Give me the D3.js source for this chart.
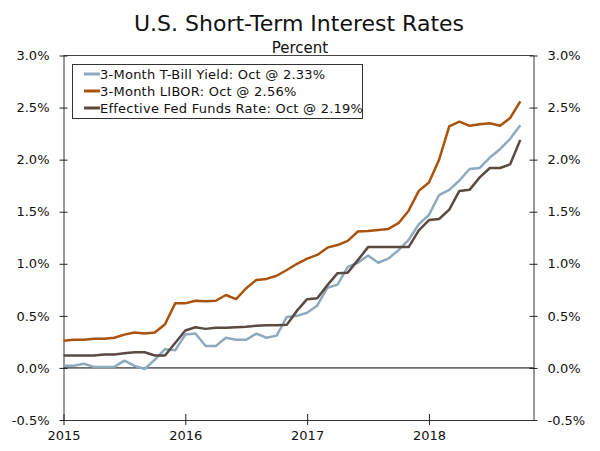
<!DOCTYPE html>
<html>
<head>
<meta charset="utf-8">
<script src="https://cdn.jsdelivr.net/npm/d3@7"></script>
<style>
  body { margin: 0; background: #fff; }
  text { font-family: 'DejaVu Sans', Verdana, sans-serif; fill: #111; }
</style>
</head>
<body>
<script>
// monthly values, Jan 2015 .. Oct 2018
const months = d3.range(46);
const yearTicks = [0, 12, 24, 36];
const yearLabels = ['2015', '2016', '2017', '2018'];
const yTicks = [-0.5, 0, 0.5, 1, 1.5, 2, 2.5, 3];

const tbill = [
  0.02, 0.02, 0.04, 0.01, 0.01, 0.01, 0.07, 0.02, -0.01, 0.08, 0.18, 0.17,
  0.32, 0.33, 0.21, 0.21, 0.29, 0.27, 0.27, 0.33, 0.29, 0.31, 0.49, 0.50,
  0.53, 0.60, 0.77, 0.80, 0.97, 1.01, 1.08, 1.01, 1.05, 1.13, 1.23, 1.38,
  1.47, 1.66, 1.71, 1.80, 1.91, 1.92, 2.02, 2.10, 2.20, 2.33
];
const libor = [
  0.26, 0.27, 0.27, 0.28, 0.28, 0.29, 0.32, 0.34, 0.33, 0.34, 0.42, 0.62,
  0.62, 0.645, 0.64, 0.645, 0.70, 0.66, 0.765, 0.845, 0.855, 0.885, 0.94, 1.0,
  1.05, 1.085, 1.155, 1.18, 1.22, 1.31, 1.315, 1.325, 1.335, 1.39, 1.51, 1.70,
  1.78, 2.00, 2.32, 2.365, 2.325, 2.34, 2.35, 2.325, 2.40, 2.56
];
const fedfunds = [
  0.12, 0.12, 0.12, 0.12, 0.13, 0.13, 0.14, 0.15, 0.15, 0.12, 0.12, 0.24,
  0.36, 0.39, 0.375, 0.385, 0.385, 0.39, 0.395, 0.405, 0.41, 0.41, 0.415, 0.55,
  0.66, 0.67, 0.795, 0.91, 0.915, 1.035, 1.16, 1.16, 1.16, 1.16, 1.16, 1.32,
  1.42, 1.43, 1.52, 1.70, 1.71, 1.83, 1.92, 1.92, 1.955, 2.19
];

const seriesNames = [
  '3-Month T-Bill Yield: Oct @ 2.33%',
  '3-Month LIBOR: Oct @ 2.56%',
  'Effective Fed Funds Rate: Oct @ 2.19%'
];
const seriesColors = ['#8eaabf', '#a9530f', '#5a4a42'];
const seriesData = [tbill, libor, fedfunds];

const width = 600, height = 451;
const margin = { left: 63.5, right: 533.5, top: 55.5, bottom: 420 };

const svg = d3.select('body').append('svg').attr('width', width).attr('height', height);

const x = d3.scaleLinear().domain([0, 46.3]).range([margin.left, margin.right]);
const y = d3.scaleLinear().domain([-0.5, 3]).range([margin.bottom, margin.top]);

// title
svg.append('text').attr('x', 299).attr('y', 31).attr('text-anchor', 'middle')
  .attr('font-size', '22px').text('U.S. Short-Term Interest Rates');
svg.append('text').attr('x', 300).attr('y', 53).attr('text-anchor', 'middle')
  .attr('font-size', '15px').text('Percent');

// frame top
svg.append('line').attr('x1', margin.left).attr('x2', margin.right)
  .attr('y1', margin.top).attr('y2', margin.top)
  .attr('stroke', '#444');

// zero line
svg.append('line').attr('x1', margin.left).attr('x2', margin.right)
  .attr('y1', y(0)).attr('y2', y(0))
  .attr('stroke', '#000');

const fmt = (d) => d.toFixed(1) + '%';

const yLeft = svg.append('g').attr('transform', `translate(${margin.left},0)`)
  .call(d3.axisLeft(y).tickValues(yTicks).tickFormat(fmt).tickSizeInner(4).tickSizeOuter(0).tickPadding(10));
const yRight = svg.append('g').attr('transform', `translate(${margin.right},0)`)
  .call(d3.axisRight(y).tickValues(yTicks).tickFormat(fmt).tickSizeInner(4).tickSizeOuter(0).tickPadding(10));
[yLeft, yRight].forEach((g) => {
  g.selectAll('.tick line').attr('x1', -4).attr('x2', 4);
});

const xAxis = svg.append('g').attr('transform', `translate(0,${margin.bottom})`)
  .call(d3.axisBottom(x).tickValues(yearTicks).tickFormat((d, i) => yearLabels[i])
    .tickSizeInner(5).tickSizeOuter(0).tickPadding(6));
xAxis.selectAll('.tick line').attr('y1', -6).attr('y2', 5);

svg.selectAll('.domain').attr('stroke', '#333');
svg.selectAll('.tick line').attr('stroke', '#222');
svg.selectAll('.tick text').attr('font-family', "'DejaVu Sans', Verdana, sans-serif")
  .attr('font-size', '13px').attr('fill', '#111');

// lines
const line = d3.line().x((d, i) => x(months[i])).y((d) => y(d));
seriesData.forEach((s, i) => {
  svg.append('path').datum(s)
    .attr('fill', 'none')
    .attr('stroke', seriesColors[i])
    .attr('stroke-width', 2.5)
    .attr('stroke-linejoin', 'round')
    .attr('d', line);
});

// legend
const lg = svg.append('g');
lg.append('rect').attr('x', 72.5).attr('y', 64.5).attr('width', 290).attr('height', 54)
  .attr('fill', '#fff').attr('stroke', '#333');
seriesNames.forEach((name, i) => {
  const cy = 74 + i * 17;
  lg.append('line').attr('x1', 84).attr('x2', 100).attr('y1', cy).attr('y2', cy)
    .attr('stroke', seriesColors[i]).attr('stroke-width', 3);
  lg.append('text').attr('x', 100).attr('y', cy + 4.5)
    .attr('font-size', '13px').attr('letter-spacing', '0.25px').text(name);
});
</script>
</body>
</html>
